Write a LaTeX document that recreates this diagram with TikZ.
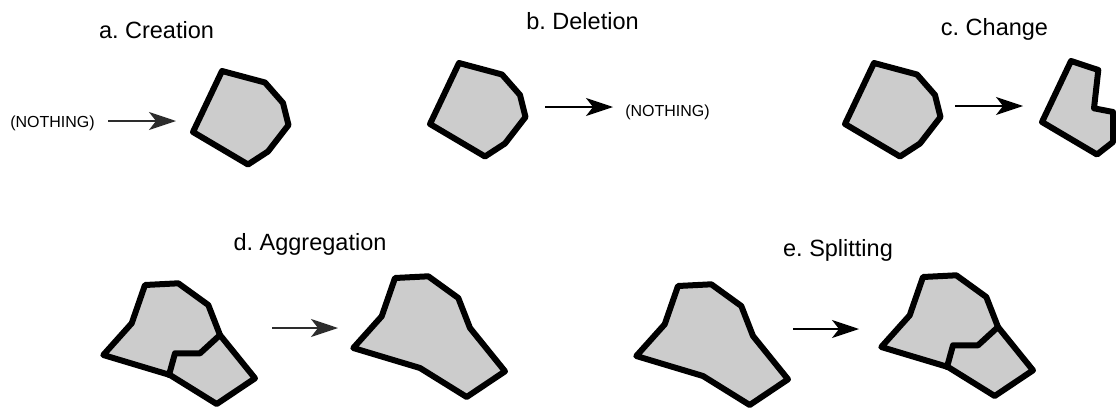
\documentclass[tikz,border=0pt]{standalone}
\usepackage{fontspec}
\setmainfont{Liberation Sans}
\usetikzlibrary{arrows.meta}
\definecolor{polyfill}{RGB}{204,204,204}
\definecolor{arrgray}{RGB}{45,45,45}
\tikzset{
  poly/.style={draw=black, fill=polyfill, line width=6pt, line join=round},
  seam/.style={draw=black, line width=6pt, line join=round, line cap=round},
  arr/.style={line width=1.4pt, -{Stealth[length=27pt,width=18pt,inset=7pt]}},
  title/.style={font=\fontsize{23.5}{27}\selectfont, anchor=base, inner sep=0pt},
  nothing/.style={font=\fontsize{16}{19}\selectfont, anchor=base, inner sep=0pt},
}
\begin{document}
\frenchspacing
\begin{tikzpicture}[x=1pt,y=-1pt]
\useasboundingbox (0,0) rectangle (1116,407);
\clip (0,0) rectangle (1116,407);
\fill[white] (0,0) rectangle (1116,407);
% titles
\node[title] (ta) at (156.5,38.3) {a. Creation};
\node[title] (tb) at (582.5,29.3) {b. Deletion};
\node[title] (tc) at (994.5,35) {c. Change};
\node[title] (td) at (310,250) {d. Aggregation};
\node[title] (te) at (838,256.7) {e. Splitting};
% nothing labels
\node[nothing] (na) at (52.5,127.3) {(NOTHING)};
\node[nothing] (nb) at (667.5,116.7) {(NOTHING)};
% top pentagons
\def\pent{(222,71) -- (265,82.5) -- (283,103) -- (288.5,125) -- (268,151.5) -- (248,164.5) -- (193,132) -- cycle}
\draw[poly] \pent;
\begin{scope}[shift={(237,-8)}] \draw[poly] \pent; \end{scope}
\begin{scope}[shift={(652,-8)}] \draw[poly] \pent; \end{scope}
% changed shape
\draw[poly] (1071,61) -- (1098.3,70) -- (1094,108.3) -- (1113,112) -- (1113,142) -- (1097,154.5) -- (1042,122) -- cycle;
% lower shapes
\def\outer{(145,285) -- (178.3,283.3) -- (208.3,305) -- (220,335) -- (255,378.3) -- (216.7,404) -- (170,375) -- (103.3,355) -- (131.7,323.3) -- cycle}
\def\inner{(220,335) -- (200,353.3) -- (175,353.3) -- (169,375)}
\draw[poly] \outer; \draw[seam] \inner;
\begin{scope}[shift={(250,-7)}] \draw[poly] \outer; \end{scope}
\begin{scope}[shift={(533,1)}] \draw[poly] \outer; \end{scope}
\begin{scope}[shift={(778,-8)}] \draw[poly] \outer; \draw[seam] \inner; \end{scope}
% arrows
\coordinate (a1) at (108,121); \coordinate (a2) at (176,121);
\coordinate (b1) at (545,107); \coordinate (b2) at (613,107);
\coordinate (c1) at (955,106); \coordinate (c2) at (1023,106);
\coordinate (d1) at (272,328); \coordinate (d2) at (338,328);
\coordinate (e1) at (793,329); \coordinate (e2) at (859,329);
\draw[arr, arrgray] (a1) -- (a2);
\draw[arr] (b1) -- (b2);
\draw[arr] (c1) -- (c2);
\draw[arr, arrgray] (d1) -- (d2);
\draw[arr] (e1) -- (e2);
\end{tikzpicture}
\end{document}
